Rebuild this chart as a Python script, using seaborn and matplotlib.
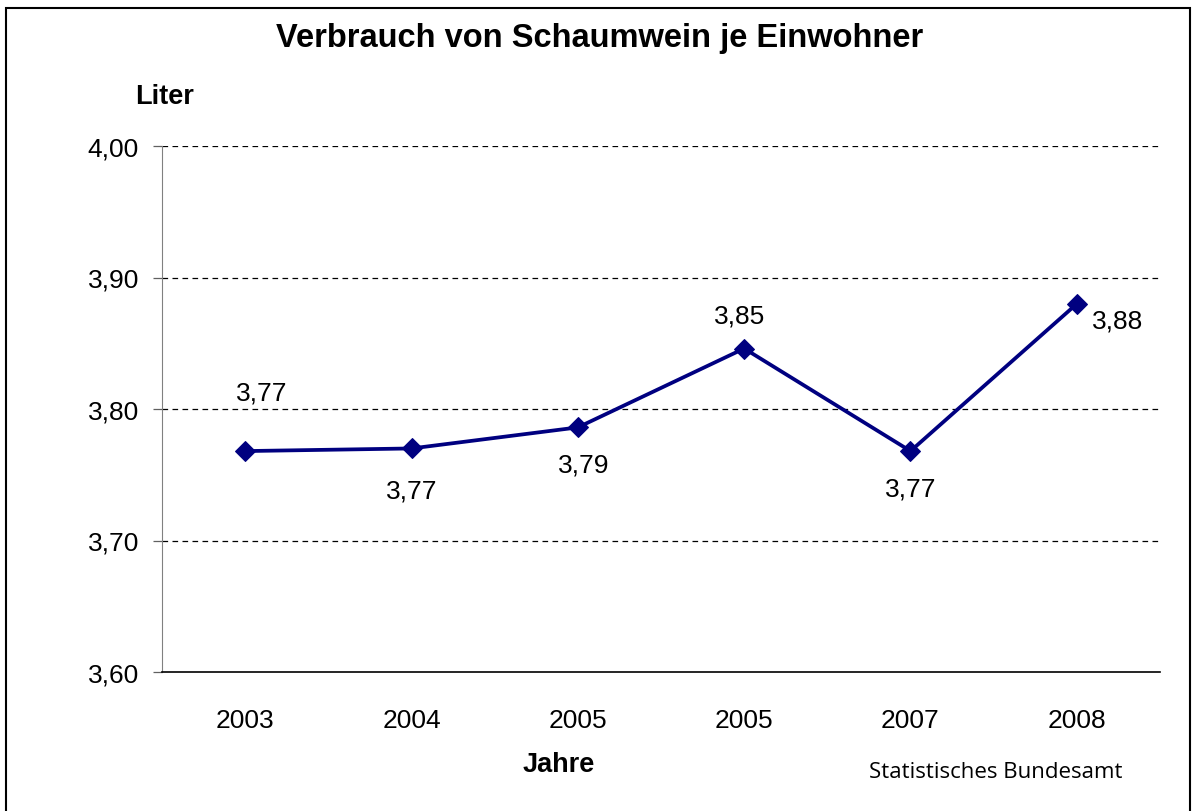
import numpy as np
import pandas as pd
import matplotlib
matplotlib.use("Agg")
import matplotlib.pyplot as plt
import matplotlib.ticker as mticker
from matplotlib.patches import Rectangle
import seaborn as sns

# data
jahre = ["2003", "2004", "2005", "2005", "2007", "2008"]
liter = [3.768, 3.770, 3.786, 3.846, 3.768, 3.880]
y_ticks = [3.60, 3.70, 3.80, 3.90, 4.00]

# label offsets (points) for the value labels
label_offsets = [(12, 42), (0, -30), (4, -27), (-3, 24), (0, -27), (11, -12)]
label_ha = ["center", "center", "center", "center", "center", "left"]

sns.set_style("white")
plt.rcParams["font.family"] = ["Liberation Sans", "DejaVu Sans"]
plt.rcParams["text.color"] = "black"
plt.rcParams["xtick.color"] = "black"
plt.rcParams["ytick.color"] = "black"

df = pd.DataFrame({"pos": np.arange(len(jahre)), "liter": liter})

fig = plt.figure(figsize=(11.92, 8.12), dpi=100)
ax = fig.add_axes([162 / 1192, 1 - 673 / 812, (1160 - 162) / 1192, (673 - 147) / 812])

sns.lineplot(data=df, x="pos", y="liter", ax=ax, color="#000080", linewidth=2.7,
             marker="D", markersize=10.5, markeredgecolor="#000080")

ax.set_xlim(-0.5, len(jahre) - 0.5)
ax.set_ylim(3.60, 4.00)
ax.set_yticks(y_ticks)
ax.yaxis.set_major_formatter(mticker.FuncFormatter(lambda v, p: f"{v:.2f}".replace(".", ",")))
ax.set_xticks(df["pos"])
ax.set_xticklabels(jahre)
ax.set_xlabel("")
ax.set_ylabel("")

for y in y_ticks[1:]:
    ax.axhline(y, color="black", linestyle=(0, (4.5, 3.5)), linewidth=0.9, zorder=0)

for s in ["top", "right"]:
    ax.spines[s].set_visible(False)
ax.spines["left"].set_color("#808080")
ax.spines["bottom"].set_color("black")
ax.spines["bottom"].set_linewidth(1.2)

ax.tick_params(axis="y", length=6.5, width=0.9, color="#606060", labelcolor="black",
               labelsize=19, pad=10, left=True)
ax.tick_params(axis="x", length=0, labelsize=19, pad=26, labelcolor="black")

for i, (v, off, ha) in enumerate(zip(liter, label_offsets, label_ha)):
    ax.annotate(f"{v:.2f}".replace(".", ","), (i, v), xytext=off, textcoords="offset points",
                ha=ha, va="center", fontsize=19, color="black")

fig.text(600 / 1192, 1 - 38 / 812, "Verbrauch von Schaumwein je Einwohner",
         ha="center", va="center", fontsize=23.5, fontweight="bold")
fig.text(165 / 1192, 1 - 97 / 812, "Liter", ha="center", va="center", fontsize=19.5, fontweight="bold")
fig.text(559 / 1192, 1 - 765 / 812, "Jahre", ha="center", va="center", fontsize=19.5, fontweight="bold")
fig.text(996 / 1192, 1 - 773 / 812, "Statistisches Bundesamt", ha="center", va="center",
         fontsize=16, family=["Open Sans", "DejaVu Sans"])

fig.patches.append(Rectangle((6 / 1192, -0.02), 1184 / 1192, 1.02 - 9 / 812, transform=fig.transFigure,
                             fill=False, edgecolor="black", linewidth=1.5))

fig.savefig("out.png", dpi=100)
